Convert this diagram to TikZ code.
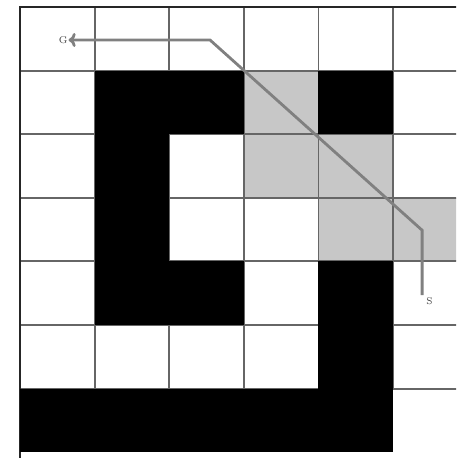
\documentclass[tikz,border=0pt]{standalone}
\usetikzlibrary{arrows.meta}
\begin{document}
\begin{tikzpicture}[x=1.865cm,y=-1.59cm,
		grille/.style={draw=black!60,line width=1.3pt},
		bord/.style={draw=black!85,line width=2pt},
		chemin/.style={draw=black!50,line width=2pt,>={To[length=5pt,width=10pt]}},
		lettre/.style={inner sep=0.5pt,font=\scriptsize,text=black!75}]
		\clip (-0.268,-0.11) rectangle (5.845,7.091);
		%Cases grises
		\foreach \i/\j in {3/1,3/2,4/2,4/3,5/3}
			\fill[black!22] (\i,\j) rectangle ++(1,1);
		%Grille
		\foreach \j in {1,...,6}
			\draw[grille] (0,\j) -- (6,\j);
		\foreach \i in {1,...,5}
			\draw[grille] (\i,0) -- (\i,6);
		\draw[bord] (6,0) -- (0,0) -- (0,7.2);
		%Cases noires
		\foreach \i/\j in {1/1,2/1,4/1,1/2,1/3,1/4,2/4,4/4,4/5}
			\fill (\i,\j) rectangle ++(1,1);
		\fill (0,6) rectangle (5,7);
		%Chemin
		\node[lettre] (S) at (5.49,4.62) {S};
		\node[lettre] (G) at (0.58,0.519) {G};
		\coordinate (D) at (5.39,4.53);
		\coordinate (C1) at (5.39,3.51);
		\coordinate (C2) at (2.547,0.519);
		\draw[chemin,->] (D) -- (C1) -- (C2) -- (G);
	\end{tikzpicture}
\end{document}
